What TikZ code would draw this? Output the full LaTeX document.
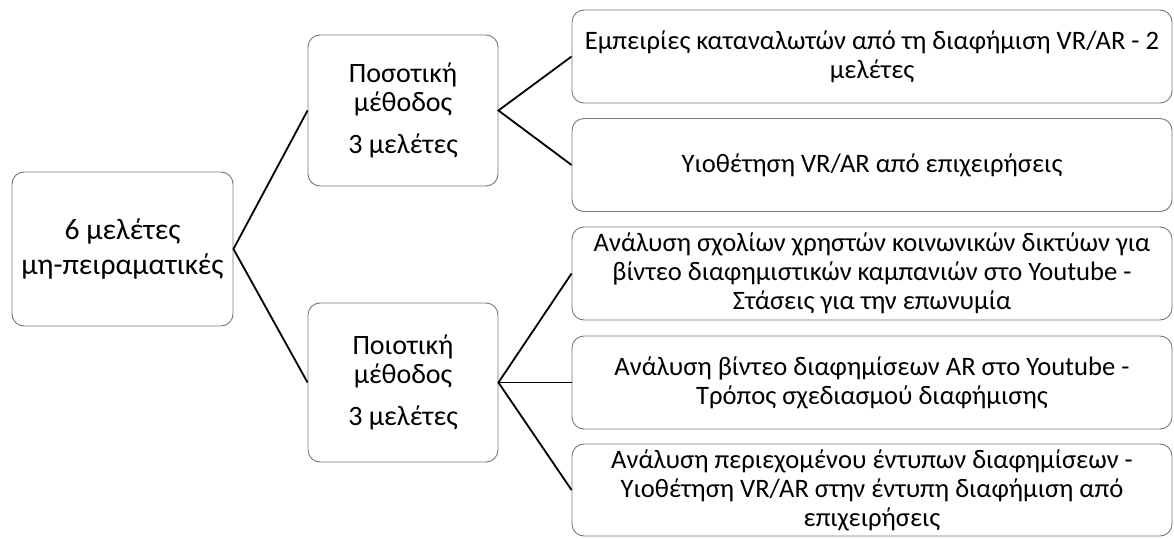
\documentclass[tikz,border=0pt]{standalone}
\usepackage{fontspec}
\setmainfont{Carlito}
\definecolor{boxgray}{RGB}{120,120,120}
\begin{document}
\begin{tikzpicture}[x=1pt,y=-1pt,
  box/.style={draw=boxgray, line width=0.9pt, rounded corners=12pt, fill=white,
    inner sep=0pt, align=center, text=black},
  conn/.style={draw=black, line width=1.8pt}]
\useasboundingbox (0,0) rectangle (1174,538);
\node[box, minimum width=221pt, minimum height=154pt,
  font=\fontsize{29.6}{35}\selectfont] (root) at (122.5,249)
  {6 μελέτες\\μη-πειραματικές};
\node[box, minimum width=190pt, minimum height=151pt,
  font=\fontsize{28}{29}\selectfont] (quant) at (403,110.5)
  {Ποσοτική\\μέθοδος\\[13pt]3 μελέτες};
\node[box, minimum width=190pt, minimum height=159pt,
  font=\fontsize{28}{29}\selectfont] (qual) at (403,382.5)
  {Ποιοτική\\μέθοδος\\[13pt]3 μελέτες};
\tikzset{rbox/.style={box, minimum width=600pt, minimum height=93pt,
  font=\fontsize{26.6}{29}\selectfont}}
\node[rbox] (r1) at (872,56.5) {Εμπειρίες καταναλωτών από τη διαφήμιση VR/AR - 2\\μελέτες};
\node[rbox] (r2) at (872,165) {Υιοθέτηση VR/AR από επιχειρήσεις};
\node[rbox] (r3) at (872,273.5) {Ανάλυση σχολίων χρηστών κοινωνικών δικτύων για\\βίντεο διαφημιστικών καμπανιών στο Youtube -\\Στάσεις για την επωνυμία};
\node[rbox] (r4) at (872,382.5) {Ανάλυση βίντεο διαφημίσεων AR στο Youtube -\\Τρόπος σχεδιασμού διαφήμισης};
\node[rbox, minimum height=92pt] (r5) at (872,490) {Ανάλυση περιεχομένου έντυπων διαφημίσεων -\\Υιοθέτηση VR/AR στην έντυπη διαφήμιση από\\επιχειρήσεις};
\draw[conn] (quant.west) -- (root.east) -- (qual.west);
\draw[conn] (r1.west) -- (quant.east) -- (r2.west);
\draw[conn] (r3.west) -- (qual.east) -- (r5.west);
\draw[conn] (qual.east) -- (r4.west);
\end{tikzpicture}
\end{document}
